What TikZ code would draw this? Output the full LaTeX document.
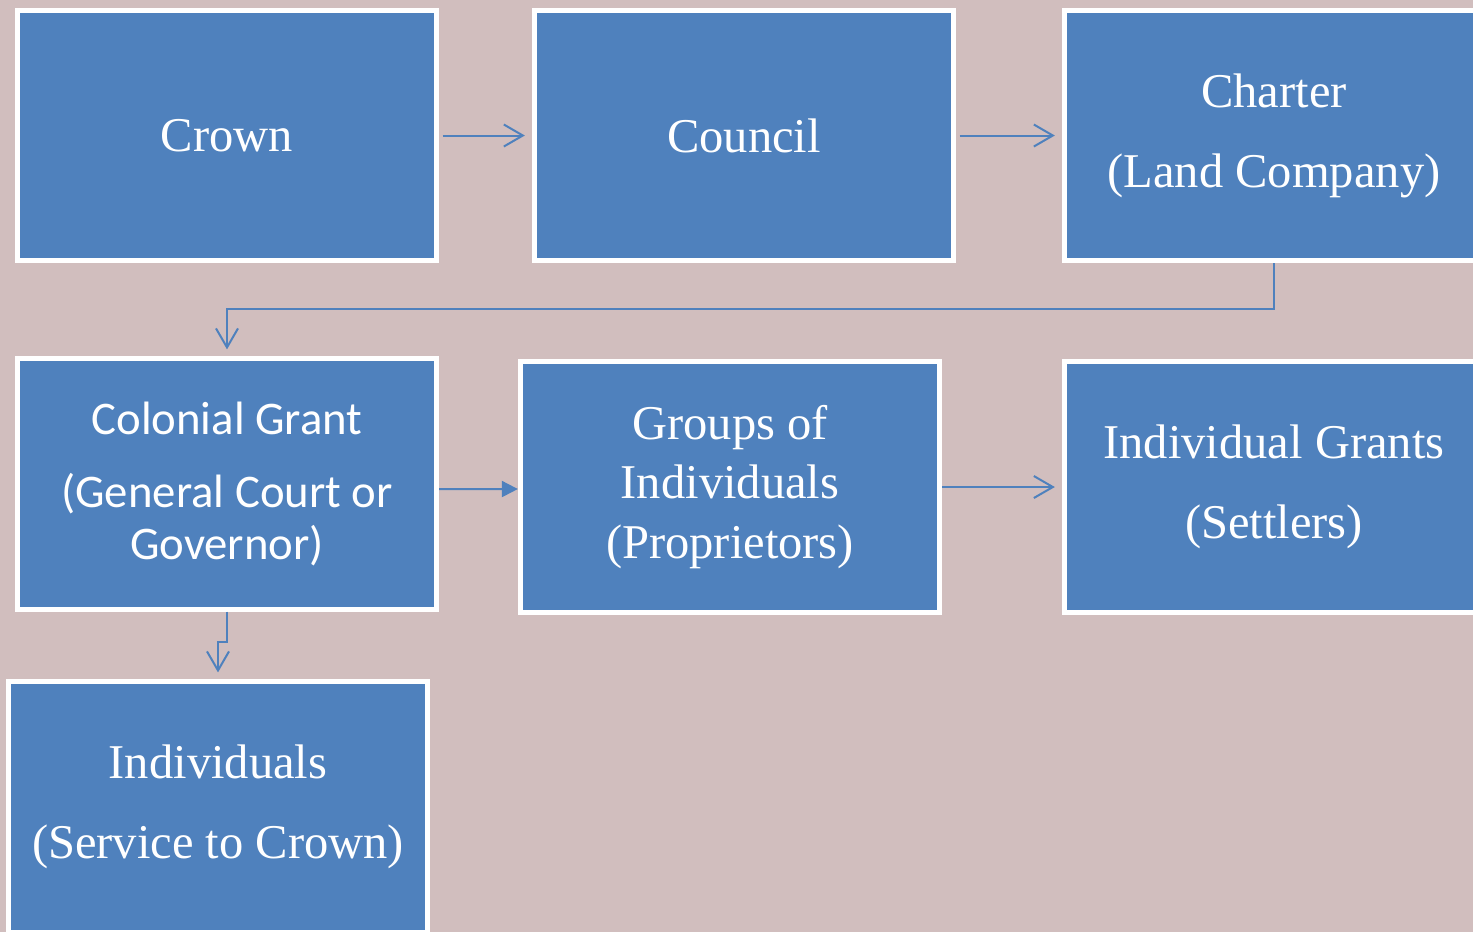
\documentclass[tikz,border=0pt]{standalone}
\usepackage{fontspec}
\setmainfont{Liberation Serif}
\newfontfamily\calibri{Carlito}
\usetikzlibrary{arrows.meta}

\definecolor{bgpink}{RGB}{209,190,190}
\definecolor{officeblue}{RGB}{79,129,189}

\begin{document}
\begin{tikzpicture}[x=0.01cm, y=-0.01cm,
    block/.style={draw=white, line width=0.05cm, fill=officeblue, text=white,
      minimum width=4.19cm, minimum height=2.5cm, align=center, inner sep=0pt,
      font=\fontsize{13.8}{17}\selectfont},
    link/.style={draw=officeblue, line width=0.02cm,
      -{Straight Barb[length=0.19cm, width=0.22cm]}},
    solidlink/.style={draw=officeblue, line width=0.02cm,
      -{Triangle[length=0.16cm, width=0.16cm]}}]
    \fill[bgpink] (0,0) rectangle (1473,932);
    \clip (0,0) rectangle (1473,932);

    \node[block] (crown) at (227,135.5) {Crown};
    \node[block] (council) at (744,135.5) {Council};
    \node[block] (charter) at (1274,135.5) {Charter\\[0.2cm](Land Company)};
    \node[block, font=\calibri\fontsize{13.3}{15}\selectfont] (colgrant) at (227,484)
      {Colonial Grant\\[0.2cm](General Court or\\Governor)};
    \node[block] (groups) at (730,487) {Groups of\\Individuals\\(Proprietors)};
    \node[block] (indgrants) at (1274,487) {Individual Grants\\[0.2cm](Settlers)};
    \node[block] (indiv) at (218,807) {Individuals\\[0.2cm](Service to Crown)};

    \draw[link, shorten <=1pt, shorten >=2pt] (crown) -- (council);
    \draw[link, shorten <=1pt, shorten >=2pt] (council) -- (charter);
    \draw[link, shorten >=2pt] (charter.south) -- ++(0,46) -| (colgrant.north);
    \draw[solidlink] ([yshift=-0.05cm]colgrant.east) -- ([yshift=-0.02cm]groups.west);
    \draw[link, shorten >=2pt] (groups) -- (indgrants);
    \draw[link, shorten >=2pt] (colgrant.south) -- ++(0,30) -| (indiv.north);
\end{tikzpicture}
\end{document}
